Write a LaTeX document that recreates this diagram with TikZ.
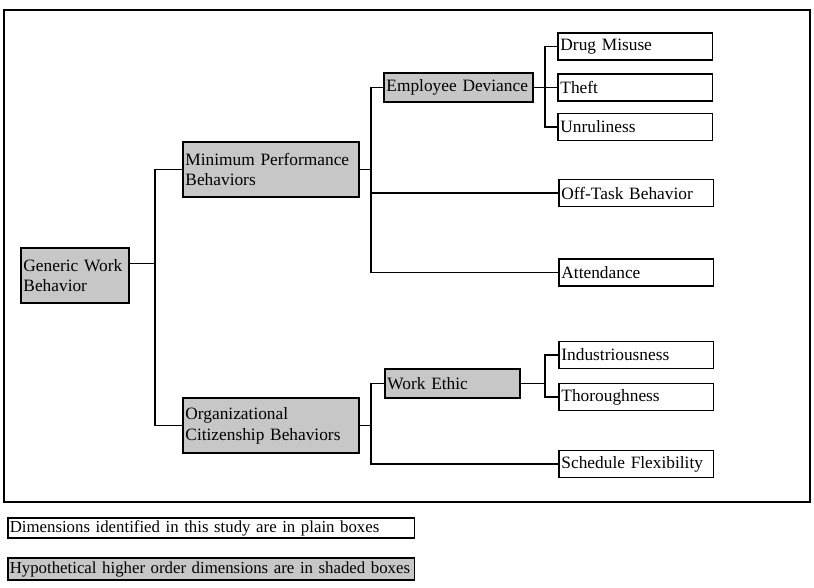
\documentclass[tikz,border=0pt]{standalone}
\usepackage{fontspec}
\setmainfont{Liberation Serif}
\begin{document}
\begin{tikzpicture}[x=0.75pt,y=-0.75pt,
  bx/.style={draw, line width=1.2pt, inner xsep=2pt, inner ysep=1pt, align=left,
    font=\fontsize{13}{15.5}\selectfont, anchor=west},
  plainbox/.style={bx, fill=white},
  shadebox/.style={bx, fill=black!22},
  leaf/.style={plainbox, text width=112pt, minimum height=20.5pt},
  legend/.style={inner xsep=1.5pt, text width=302pt, font=\fontsize{12.6}{14}\selectfont},
  conn/.style={line width=1.2pt}]
\useasboundingbox (0,0) rectangle (814,587);
\draw[line width=1.5pt] (4,10) rectangle (810,502);

% hierarchy nodes
\node[shadebox, text width=77pt, minimum height=41.25pt] (gwb) at (20,275.5) {Generic Work\\Behavior};
\node[shadebox, text width=128pt, minimum height=41.25pt] (mpb) at (182,169.5) {Minimum Performance\\Behaviors};
\node[shadebox, text width=128pt, minimum height=41.25pt] (ocb) at (182,425.5) {Organizational\\Citizenship Behaviors};
\node[shadebox, text width=107.75pt, minimum height=21.75pt] (ed) at (383,87.5) {Employee Deviance};
\node[shadebox, text width=97.25pt, minimum height=21.75pt] (we) at (384,383.5) {Work Ethic};

\node[leaf] (dm) at (557,46.5) {Drug Misuse};
\node[leaf] (th) at (557,87.5) {Theft};
\node[leaf] (un) at (557,127) {Unruliness};
\node[leaf] (ot) at (558,193) {Off-Task Behavior};
\node[leaf] (at) at (558,272.5) {Attendance};
\node[leaf] (in) at (558,355) {Industriousness};
\node[leaf] (tho) at (558,397) {Thoroughness};
\node[leaf] (sf) at (558,464) {Schedule Flexibility};

% legend
\node[plainbox, legend, minimum height=15pt] (lg1) at (7,528) {Dimensions identified in this study are in plain boxes};
\node[shadebox, legend, minimum height=16.5pt] (lg2) at (7,569) {Hypothetical higher order dimensions are in shaded boxes};

% trunk positions
\coordinate (ja) at (155,0);
\coordinate (jb) at (371,0);
\coordinate (jc) at (545,0);
\coordinate (g0) at ([yshift=9pt]gwb.east);

% connectors
\draw[conn] (g0) -- (g0 -| ja);
\draw[conn] (mpb.west) -| (ja |- ocb.west) -- (ocb.west);
\draw[conn] (ed.west) -| (jb |- at.west) -- (at.west);
\draw[conn] (mpb.east) -- (mpb.east -| jb);
\draw[conn] (ot.west -| jb) -- (ot.west);
\draw[conn] (ed.east) -- (th.west);
\draw[conn] (dm.west) -| (jc |- un.west) -- (un.west);
\draw[conn] (we.west) -| (jb |- sf.west) -- (sf.west);
\draw[conn] (ocb.east) -- (ocb.east -| jb);
\draw[conn] (we.east) -- (we.east -| jc);
\draw[conn] (in.west) -| (jc |- tho.west) -- (tho.west);
\end{tikzpicture}
\end{document}
